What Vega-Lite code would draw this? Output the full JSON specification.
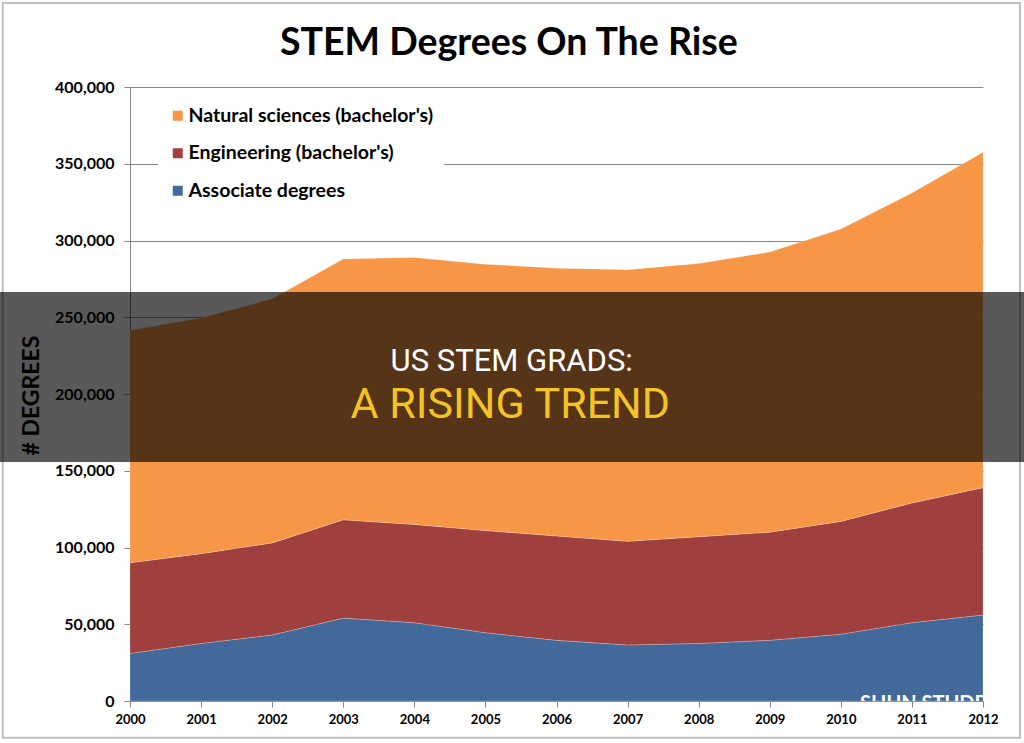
{
  "$schema": "https://vega.github.io/schema/vega-lite/v6.json",
  "width": 853,
  "height": 614,
  "autosize": {"type": "none"},
  "padding": {"left": 130, "top": 87, "right": 41, "bottom": 42},
  "background": "white",
  "config": {
    "view": {"stroke": null},
    "axis": {
      "gridColor": "#868686",
      "domainColor": "#868686",
      "tickColor": "#868686",
      "labelColor": "#000000",
      "titleColor": "#000000"
    }
  },
  "layer": [
    {
      "data": {"values": [
        {"x": 1998.21, "x2": 2012.52, "y": 454700, "y2": -24000}
      ]},
      "mark": {"type": "rect", "fill": null, "stroke": "#bfbfbf", "strokeWidth": 2, "clip": false},
      "encoding": {
        "x": {"field": "x", "type": "quantitative"},
        "x2": {"field": "x2"},
        "y": {"field": "y", "type": "quantitative"},
        "y2": {"field": "y2"}
      }
    },
    {
      "data": {"values": [{"label": "STEM Degrees On The Rise", "year": 2005.33, "value": 421000}]},
      "mark": {"type": "text", "align": "center", "baseline": "alphabetic", "font": "Lato", "fontSize": 37.5, "fontWeight": "bold", "color": "#000000", "clip": false},
      "encoding": {
        "x": {"field": "year", "type": "quantitative"},
        "y": {"field": "value", "type": "quantitative"},
        "text": {"field": "label"}
      }
    },
    {
      "data": {"values": [
        {"year": 2000, "series": "Associate degrees", "value": 31000},
        {"year": 2001, "series": "Associate degrees", "value": 37500},
        {"year": 2002, "series": "Associate degrees", "value": 43000},
        {"year": 2003, "series": "Associate degrees", "value": 54000},
        {"year": 2004, "series": "Associate degrees", "value": 51000},
        {"year": 2005, "series": "Associate degrees", "value": 44500},
        {"year": 2006, "series": "Associate degrees", "value": 39500},
        {"year": 2007, "series": "Associate degrees", "value": 36500},
        {"year": 2008, "series": "Associate degrees", "value": 37500},
        {"year": 2009, "series": "Associate degrees", "value": 39500},
        {"year": 2010, "series": "Associate degrees", "value": 43500},
        {"year": 2011, "series": "Associate degrees", "value": 51000},
        {"year": 2012, "series": "Associate degrees", "value": 56000},
        {"year": 2000, "series": "Engineering (bachelor's)", "value": 59000},
        {"year": 2001, "series": "Engineering (bachelor's)", "value": 58500},
        {"year": 2002, "series": "Engineering (bachelor's)", "value": 60000},
        {"year": 2003, "series": "Engineering (bachelor's)", "value": 64000},
        {"year": 2004, "series": "Engineering (bachelor's)", "value": 64000},
        {"year": 2005, "series": "Engineering (bachelor's)", "value": 66500},
        {"year": 2006, "series": "Engineering (bachelor's)", "value": 68000},
        {"year": 2007, "series": "Engineering (bachelor's)", "value": 67500},
        {"year": 2008, "series": "Engineering (bachelor's)", "value": 69500},
        {"year": 2009, "series": "Engineering (bachelor's)", "value": 70500},
        {"year": 2010, "series": "Engineering (bachelor's)", "value": 73500},
        {"year": 2011, "series": "Engineering (bachelor's)", "value": 78000},
        {"year": 2012, "series": "Engineering (bachelor's)", "value": 83000},
        {"year": 2000, "series": "Natural sciences (bachelor's)", "value": 151500},
        {"year": 2001, "series": "Natural sciences (bachelor's)", "value": 153500},
        {"year": 2002, "series": "Natural sciences (bachelor's)", "value": 159000},
        {"year": 2003, "series": "Natural sciences (bachelor's)", "value": 170000},
        {"year": 2004, "series": "Natural sciences (bachelor's)", "value": 174000},
        {"year": 2005, "series": "Natural sciences (bachelor's)", "value": 173500},
        {"year": 2006, "series": "Natural sciences (bachelor's)", "value": 174500},
        {"year": 2007, "series": "Natural sciences (bachelor's)", "value": 177000},
        {"year": 2008, "series": "Natural sciences (bachelor's)", "value": 178000},
        {"year": 2009, "series": "Natural sciences (bachelor's)", "value": 182500},
        {"year": 2010, "series": "Natural sciences (bachelor's)", "value": 190500},
        {"year": 2011, "series": "Natural sciences (bachelor's)", "value": 202000},
        {"year": 2012, "series": "Natural sciences (bachelor's)", "value": 218500}
      ]},
      "mark": {"type": "area", "interpolate": "linear", "stroke": "#ffffff", "strokeWidth": 0.6, "strokeOpacity": 0.35},
      "encoding": {
        "x": {
          "field": "year",
          "type": "quantitative",
          "scale": {"domain": [2000, 2012], "nice": false, "zero": false},
          "axis": {
            "values": [2000, 2001, 2002, 2003, 2004, 2005, 2006, 2007, 2008, 2009, 2010, 2011, 2012],
            "format": "d",
            "title": null,
            "grid": false,
            "tickSize": 6,
            "labelPadding": 6,
            "labelFont": "Lato",
            "labelFontSize": 13,
            "labelFontWeight": "bold",
            "labelFlush": false,
            "labelOverlap": false
          }
        },
        "y": {
          "field": "value",
          "type": "quantitative",
          "stack": "zero",
          "scale": {"domain": [0, 400000], "nice": false},
          "axis": {
            "values": [0, 50000, 100000, 150000, 200000, 250000, 300000, 350000, 400000],
            "format": ",d",
            "title": "# DEGREES",
            "titleFont": "Lato",
            "titleFontSize": 23,
            "titleFontWeight": "bold",
            "titleAngle": -90,
            "titleX": -99,
            "titleY": 308,
            "titleAlign": "center",
            "titleBaseline": "middle",
            "grid": true,
            "tickSize": 6,
            "labelPadding": 10,
            "labelFont": "Lato",
            "labelFontSize": 16,
            "labelFontWeight": "bold",
            "labelFlush": false
          }
        },
        "color": {
          "field": "series",
          "type": "nominal",
          "scale": {
            "domain": ["Natural sciences (bachelor's)", "Engineering (bachelor's)", "Associate degrees"],
            "range": ["#F79646", "#A0403E", "#43689A"]
          },
          "legend": {
            "title": null,
            "orient": "none",
            "legendX": 28,
            "legendY": 9,
            "padding": 10,
            "fillColor": "white",
            "symbolType": "square",
            "symbolSize": 100,
            "symbolStrokeWidth": 0,
            "labelFont": "Lato",
            "labelFontSize": 19.5,
            "labelFontWeight": "bold",
            "labelColor": "#000000",
            "labelOffset": 1,
            "rowPadding": 16.5,
            "labelLimit": 400
          }
        },
        "order": {"field": "series", "sort": "ascending"}
      }
    },
    {
      "data": {"values": [{"label": "SHUN STUDENT", "year": 2010.27, "value": -6000}]},
      "mark": {"type": "text", "align": "left", "baseline": "alphabetic", "font": "Lato", "fontSize": 20, "fontWeight": "bold", "color": "#ffffff", "clip": true},
      "encoding": {
        "x": {"field": "year", "type": "quantitative"},
        "y": {"field": "value", "type": "quantitative"},
        "text": {"field": "label"}
      }
    },
    {
      "data": {"values": [
        {"x": 1998.1, "x2": 2012.7, "y": 266450, "y2": 155700}
      ]},
      "mark": {"type": "rect", "fill": "#000000", "fillOpacity": 0.65, "clip": false},
      "encoding": {
        "x": {"field": "x", "type": "quantitative"},
        "x2": {"field": "x2"},
        "y": {"field": "y", "type": "quantitative"},
        "y2": {"field": "y2"}
      }
    },
    {
      "data": {"values": [
        {"label": "US STEM GRADS:", "year": 2005.37, "value": 220800, "kind": "a"},
        {"label": "A RISING TREND", "year": 2005.35, "value": 192800, "kind": "b"}
      ]},
      "mark": {"type": "text", "align": "center", "baseline": "middle", "font": "Roboto"},
      "encoding": {
        "x": {"field": "year", "type": "quantitative"},
        "y": {"field": "value", "type": "quantitative"},
        "text": {"field": "label"},
        "color": {"field": "kind", "type": "nominal", "scale": {"domain": ["a", "b"], "range": ["#ffffff", "#F5C324"]}, "legend": null},
        "size": {"field": "kind", "type": "nominal", "scale": {"domain": ["a", "b"], "range": [31, 43]}, "legend": null}
      }
    }
  ],
  "resolve": {"scale": {"color": "independent", "size": "independent"}}
}
